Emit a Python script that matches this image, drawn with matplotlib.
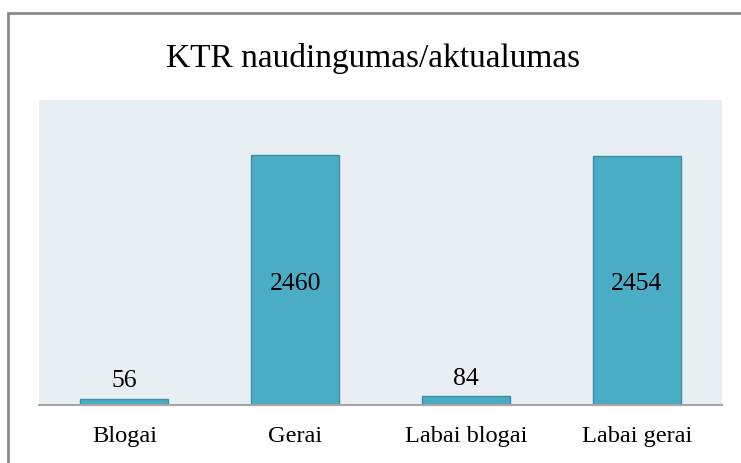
import matplotlib.pyplot as plt
from matplotlib.patches import Rectangle

plt.rcParams['font.family'] = ['Liberation Serif', 'DejaVu Serif']

# Data
categories = ['Blogai', 'Gerai', 'Labai blogai', 'Labai gerai']
values = [56, 2460, 84, 2454]

fig = plt.figure(figsize=(7.41, 4.63), dpi=100)
fig.patch.set_facecolor('white')

# outer frame (runs off the right/bottom edge like the original)
fig.patches.append(Rectangle((8 / 741, -0.05), 1.0, 1 - 13 / 463 + 0.05,
                             transform=fig.transFigure, fill=False,
                             edgecolor='#8a8a8a', linewidth=2, zorder=0))

ax = fig.add_axes([39 / 741, 1 - 405 / 463, (722 - 39) / 741, (405 - 100) / 463])
ax.set_facecolor('#e8eff3')

x = range(len(categories))
bars = ax.bar(x, values, width=0.515, color='#4bacc6', edgecolor='#3d8ea5',
              linewidth=1, zorder=2)

ax.set_xlim(-0.5, len(categories) - 0.5)
ax.set_ylim(0, 3000)

# value labels: inside tall bars, above short ones
for b, v in zip(bars, values):
    cx = b.get_x() + b.get_width() / 2
    if v > 1000:
        ax.annotate(str(v), (cx, v / 2), xytext=(0, -3), textcoords='offset points',
                    ha='center', va='center', fontsize=18.5, color='black')
    else:
        ax.annotate(str(v), (cx, v), xytext=(0, 5), textcoords='offset points',
                    ha='center', va='bottom', fontsize=18.5, color='black')

ax.set_xticks(list(x))
ax.set_xticklabels(categories, fontsize=17.6)
ax.tick_params(axis='x', length=0, pad=15)
ax.set_yticks([])
for s in ['top', 'left', 'right']:
    ax.spines[s].set_visible(False)
ax.spines['bottom'].set_color('#a6a6a6')
ax.spines['bottom'].set_linewidth(1.5)

fig.text(373 / 741, 1 - 58 / 463, 'KTR naudingumas/aktualumas', ha='center', va='center',
         fontsize=24, color='black')

fig.savefig('out.png', dpi=100)
